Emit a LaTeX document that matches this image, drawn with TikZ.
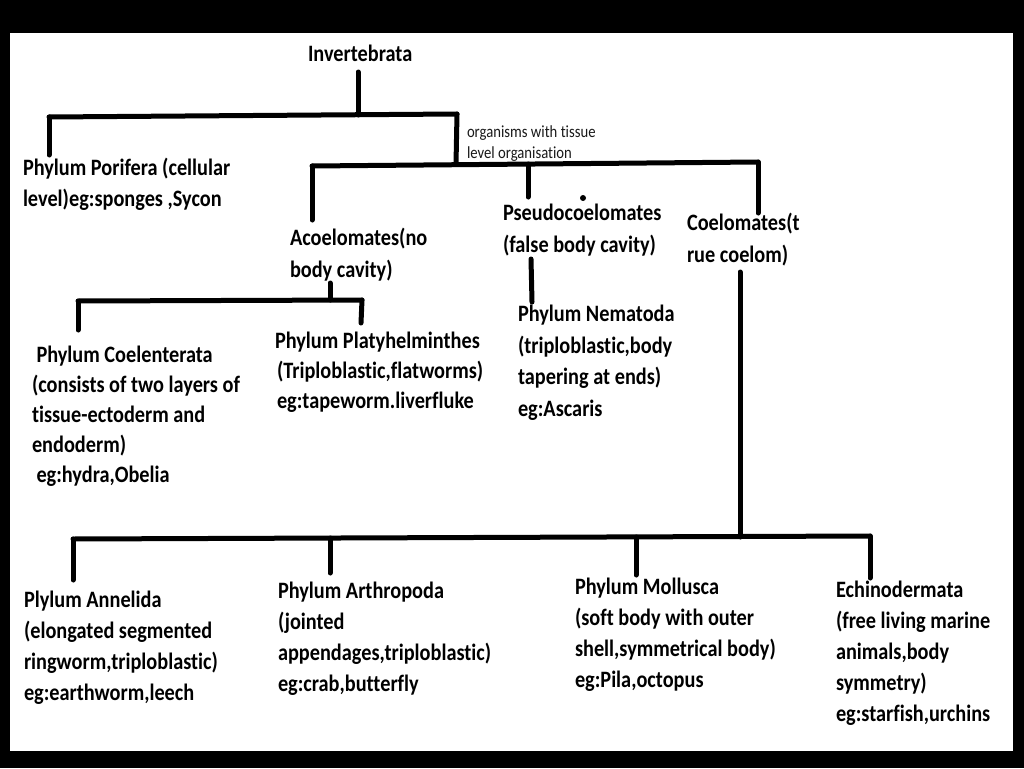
\documentclass[tikz,border=0pt]{standalone}
\usepackage{fontspec}
\setmainfont{Carlito}[FakeStretch=0.864,Ligatures=NoCommon]
\begin{document}
\begin{tikzpicture}[x=1pt,y=-1pt,
  lbl/.style={anchor=base west,inner sep=0pt,outer sep=0pt,align=left,text=black,
    font=\fontsize{23.5}{31}\selectfont\bfseries},
  lbltight/.style={lbl,font=\fontsize{23.5}{30}\selectfont\bfseries},
  lblwide/.style={lbl,font=\fontsize{23.5}{32}\selectfont\bfseries},
  small/.style={anchor=base west,inner sep=0pt,outer sep=0pt,align=left,text=black!90,
    font=\fontsize{17}{21}\selectfont},
  branch/.style={line width=5pt,line cap=round,line join=round,black}]
\useasboundingbox (0,0) rectangle (1024,768);
\fill[black] (0,0) rectangle (1024,768);
\fill[white] (10,33) rectangle (1013,751);

% labels (anchored at the baseline of their last line)
\node[lbl] (inv) at (308,62) {Invertebrata};
\node[lbl] (por) at (23,206) {Phylum Porifera (cellular\\level)eg:sponges ,Sycon};
\node[small] (tis) at (467,158) {organisms with tissue\\level organisation};
\node[lblwide] (aco) at (290,277) {Acoelomates(no\\body cavity)};
\node[lblwide] (pse) at (503,252) {Pseudocoelomates\\(false body cavity)};
\node[lblwide] (coe) at (687,262) {Coelomates(t\\rue coelom)};
\node[lbltight] (cnt) at (32,482) {\hspace{4.5pt}Phylum Coelenterata\\(consists of two layers of\\tissue-ectoderm and\\endoderm)\\\hspace{4.5pt}eg:hydra,Obelia};
\node[lbltight] (pla) at (275,408) {Phylum Platyhelminthes\\\hspace{2pt}(Triploblastic,flatworms)\\\hspace{2pt}eg:tapeworm.liverfluke};
\node[lbl,font=\fontsize{23.5}{31.5}\selectfont\bfseries] (nem) at (518,416) {Phylum Nematoda\\(triploblastic,body\\tapering at ends)\\eg:Ascaris};
\node[lbl] (ann) at (24,700) {Plylum Annelida\\(elongated segmented\\ringworm,triploblastic)\\eg:earthworm,leech};
\node[lbl] (art) at (278,691) {Phylum Arthropoda\\(jointed\\appendages,triploblastic)\\eg:crab,butterfly};
\node[lbl] (mol) at (575,687) {Phylum Mollusca\\(soft body with outer\\shell,symmetrical body)\\eg:Pila,octopus};
\node[lbl] (ech) at (836,721) {Echinodermata\\(free living marine\\animals,body\\symmetry)\\eg:starfish,urchins};

% junction coordinates
\coordinate (invS) at (358,72);
\coordinate (invJ) at (358,115);
\coordinate (h1L) at (49,117);
\coordinate (h1R) at (457,114);
\coordinate (porN) at (49,155);
\coordinate (tisS) at (456,164);
\coordinate (h2L) at (312,166);
\coordinate (h2R) at (758,162);
\coordinate (acoN) at (312,220);
\coordinate (pseJ) at (528,164);
\coordinate (pseN) at (528,197);
\coordinate (coeN) at (758,213);
\coordinate (acoS) at (330,283);
\coordinate (acoJ) at (330,300);
\coordinate (h3L) at (78,301);
\coordinate (h3R) at (362,300);
\coordinate (cntN) at (78,330);
\coordinate (plaN) at (361,323);
\coordinate (pseS) at (531,259);
\coordinate (nemN) at (532,302);
\coordinate (coeS) at (740,272);
\coordinate (coeJ) at (740,537);
\coordinate (h4L) at (73,539);
\coordinate (h4R) at (870,536);
\coordinate (annN) at (73,580);
\coordinate (artJ) at (330,538);
\coordinate (artN) at (330,573);
\coordinate (molJ) at (636,537);
\coordinate (molN) at (636,575);
\coordinate (echN) at (870,578);

% connectors
\draw[branch] (invS) -- (invJ);
\draw[branch] (h1L) -- (h1R);
\draw[branch] (h1L) -- (porN);
\draw[branch] (h1R) -- (tisS);
\draw[branch] (h2L) -- (h2R);
\draw[branch] (h2L) -- (acoN);
\draw[branch] (pseJ) -- (pseN);
\draw[branch] (h2R) -- (coeN);
\draw[branch] (acoS) -- (acoJ);
\draw[branch] (h3L) -- (h3R);
\draw[branch] (h3L) -- (cntN);
\draw[branch] (h3R) -- (plaN);
\draw[branch] (pseS) -- (nemN);
\draw[branch] (coeS) -- (coeJ);
\draw[branch] (h4L) -- (h4R);
\draw[branch] (h4L) -- (annN);
\draw[branch] (artJ) -- (artN);
\draw[branch] (molJ) -- (molN);
\draw[branch] (h4R) -- (echN);
\fill[black] (583,198) circle (3);
\end{tikzpicture}
\end{document}
